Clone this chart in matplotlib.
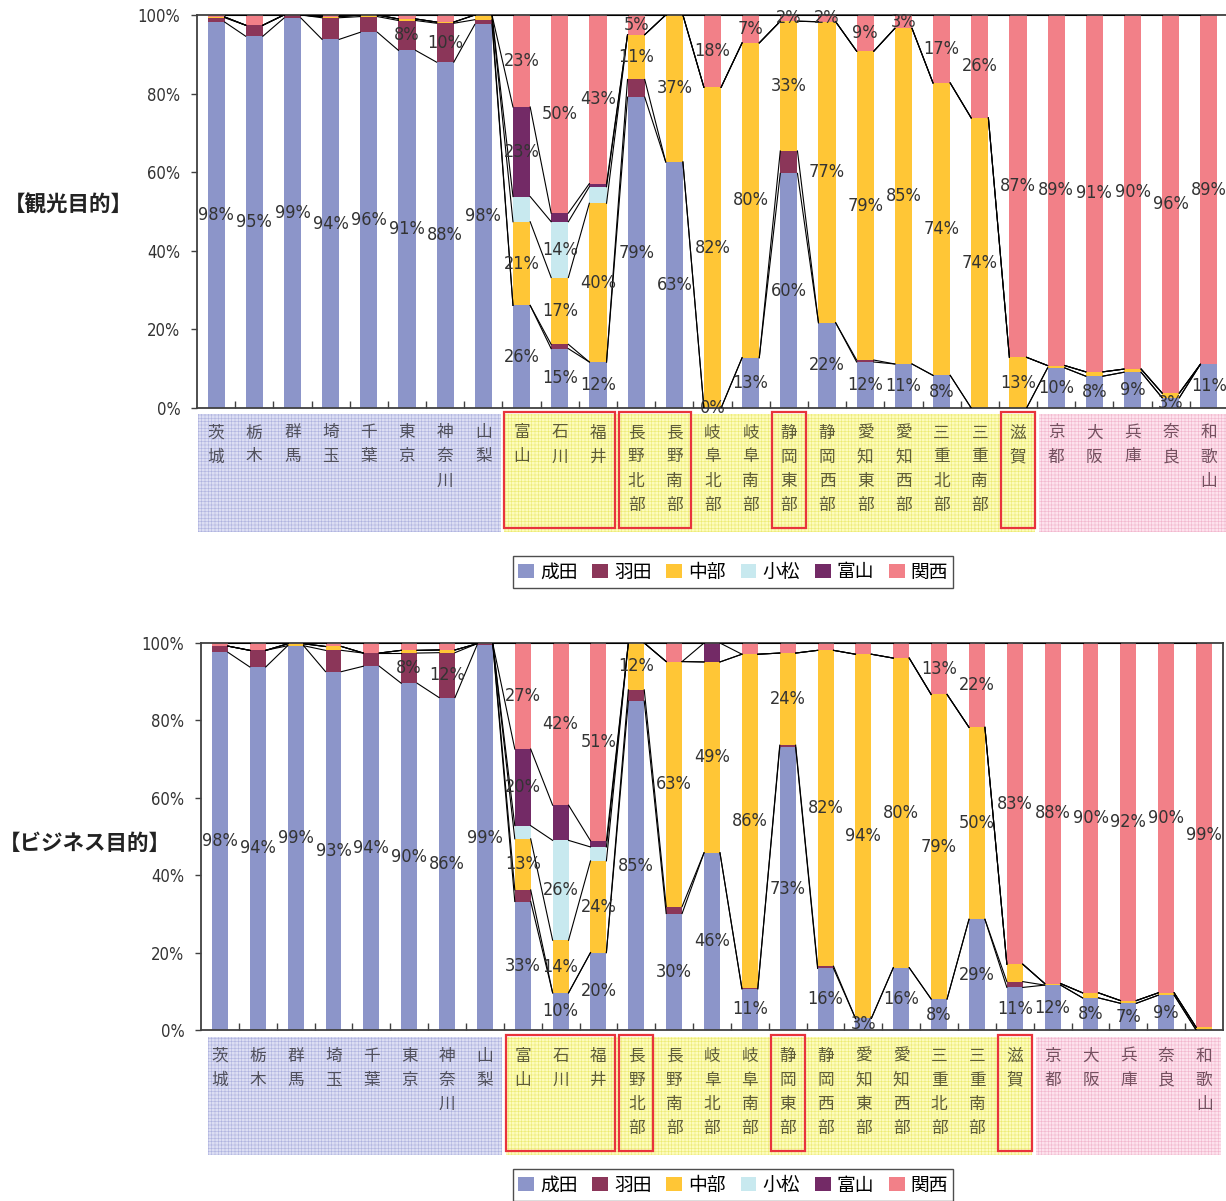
import numpy as np
import matplotlib
matplotlib.use('Agg')
import matplotlib.pyplot as plt
from matplotlib.patches import Rectangle, Patch
from matplotlib import transforms, font_manager

plt.rcParams['font.family'] = ['Noto Sans CJK JP', 'DejaVu Sans']
plt.rcParams['hatch.linewidth'] = 0.4

# 数字用の細身フォント（なければ Liberation Sans）
num_font = {'family': 'Liberation Sans', 'stretch': 'normal'}
for fam in ['Liberation Sans Narrow', 'DejaVu Sans', 'Noto Sans', 'Open Sans', 'Roboto']:
    hit = [f for f in font_manager.fontManager.ttflist
           if f.name == fam and f.style == 'normal'
           and (fam.endswith('Narrow') or f.stretch in ('condensed', 'semi-condensed'))]
    if hit:
        num_font = {'family': fam, 'stretch': hit[0].stretch}
        break

# 地域（都府県・地区）
pref = ['茨城', '栃木', '群馬', '埼玉', '千葉', '東京', '神奈川', '山梨',
        '富山', '石川', '福井', '長野北部', '長野南部', '岐阜北部', '岐阜南部',
        '静岡東部', '静岡西部', '愛知東部', '愛知西部', '三重北部', '三重南部', '滋賀',
        '京都', '大阪', '兵庫', '奈良', '和歌山']
airports = ['成田', '羽田', '中部', '小松', '富山', '関西']
colors = ['#8c95c9', '#8b3659', '#ffc636', '#c8e9ef', '#732a66', '#f28088']

# 観光目的 利用空港シェア(%)
kanko_narita = [98.2, 94.6, 99.2, 93.8, 95.6, 91.0, 88.0, 97.6, 26.1, 15.1, 11.7, 79.1, 62.6, 0.0,
                12.8, 59.7, 21.7, 11.7, 11.2, 8.3, 0.0, 0.0, 10.2, 8.1, 9.1, 2.6, 11.1]
kanko_haneda = [1.1, 2.8, 0.8, 5.5, 4.0, 7.6, 9.9, 1.2, 0.0, 1.1, 0.0, 4.5, 0.0, 0.0,
                0.0, 5.7, 0.0, 0.5, 0.0, 0.0, 0.0, 0.0, 0.0, 0.0, 0.0, 0.0, 0.0]
kanko_chubu = [0.2, 0.0, 0.0, 0.3, 0.4, 0.4, 0.3, 1.2, 21.3, 17.0, 40.4, 11.4, 37.4, 81.6,
               80.1, 33.0, 76.6, 78.6, 85.4, 74.4, 73.8, 12.9, 0.6, 1.1, 0.8, 1.2, 0.0]
kanko_komatsu = [0, 0, 0, 0, 0, 0, 0, 0, 6.4, 14.2, 4.2, 0, 0, 0,
                 0, 0, 0, 0, 0, 0, 0, 0, 0, 0, 0, 0, 0]
kanko_toyama = [0, 0, 0, 0, 0, 0, 0, 0, 22.8, 2.2, 0.8, 0, 0, 0,
                0, 0, 0, 0, 0, 0, 0, 0, 0, 0, 0, 0, 0]
kanko_kansai = [0.5, 2.6, 0.0, 0.4, 0.0, 1.0, 1.8, 0.0, 23.4, 50.4, 42.9, 5.0, 0.0, 18.4,
                7.1, 1.6, 1.7, 9.2, 3.4, 17.3, 26.2, 87.1, 89.2, 90.8, 90.1, 96.2, 88.9]

# ビジネス目的 利用空港シェア(%)
biz_narita = [97.6, 93.8, 99.3, 92.6, 94.0, 89.6, 85.9, 99.4, 33.2, 9.6, 20.0, 85.0, 30.1, 45.8,
              10.6, 73.0, 15.9, 3.0, 16.1, 8.0, 28.6, 11.0, 11.6, 8.3, 6.9, 9.0, 0.0]
biz_haneda = [1.6, 4.3, 0.0, 5.5, 3.4, 7.8, 11.6, 0.4, 3.0, 0.0, 0.0, 2.9, 1.8, 0.0,
              0.2, 0.6, 0.6, 0.0, 0.0, 0.0, 0.0, 1.5, 0.0, 0.0, 0.0, 0.0, 0.0]
biz_chubu = [0.0, 0.0, 0.5, 1.0, 0.0, 0.7, 0.7, 0.0, 13.2, 13.6, 23.7, 12.1, 63.3, 49.3,
             86.3, 23.8, 81.6, 94.1, 80.0, 78.7, 49.6, 4.5, 0.4, 1.3, 0.7, 0.6, 0.7]
biz_komatsu = [0, 0, 0, 0, 0, 0, 0, 0, 3.4, 25.8, 3.6, 0, 0, 0,
               0, 0, 0, 0, 0, 0, 0, 0, 0, 0, 0, 0, 0]
biz_toyama = [0, 0, 0, 0, 0, 0, 0, 0, 19.8, 9.1, 1.6, 0, 0, 4.9,
              0, 0, 0, 0, 0, 0, 0, 0, 0, 0, 0, 0, 0]
biz_kansai = [0.8, 1.9, 0.2, 0.9, 2.6, 1.9, 1.8, 0.2, 27.4, 41.9, 51.1, 0.0, 4.8, 0.0,
              2.9, 2.6, 1.9, 2.9, 3.9, 13.3, 21.8, 83.0, 88.0, 90.4, 92.4, 90.4, 99.3]

# ラベルを表示する地域（インデックス）
kanko_lab = {'成田': [i for i in range(27) if i not in (20, 21)],
             '羽田': [5, 6],
             '中部': list(range(8, 22)),
             '小松': [9],
             '富山': [8],
             '関西': [8, 9, 10, 11] + list(range(13, 27))}
biz_lab = {'成田': list(range(26)),
           '羽田': [5, 6],
           '中部': list(range(8, 21)),
           '小松': [9],
           '富山': [8],
           '関西': [8, 9, 10] + list(range(19, 27))}

W, H = 1226, 1201
fig = plt.figure(figsize=(W / 100, H / 100), dpi=100)
num_size = 13 if num_font['stretch'] != 'normal' else 11.5


def fy(py):
    return 1 - py / H


def panel(rect, data, labs, bw, lab_top, reg_left, boxes, title, title_xy):
    l, t, r, b = rect
    ax = fig.add_axes([l / W, fy(b), (r - l) / W, (b - t) / H])
    x = np.arange(len(pref))
    vals = np.array(data, dtype=float)
    share = vals / vals.sum(axis=0) * 100
    bottom = np.zeros(len(pref))
    tops = []
    for k, name in enumerate(airports):
        ax.bar(x, share[k], bw, bottom=bottom, color=colors[k], lw=0, zorder=2)
        for i in labs[name]:
            ax.text(x[i], bottom[i] + share[k][i] / 2, f'{vals[k][i]:.0f}%',
                    ha='center', va='center', fontsize=num_size, color='#333333',
                    zorder=5, **num_font)
        bottom = bottom + share[k]
        tops.append(bottom.copy())
    # 系列線
    for top in tops:
        for i in range(len(x) - 1):
            ax.plot([x[i] + bw / 2, x[i + 1] - bw / 2], [top[i], top[i + 1]],
                    color='black', lw=0.8, zorder=3)

    ax.set_xlim(-0.5, len(pref) - 0.5)
    ax.set_ylim(0, 100)
    ax.set_yticks(np.arange(0, 101, 20))
    ax.set_yticklabels([f'{v}%' for v in range(0, 101, 20)], fontsize=12,
                       color='#333333', **num_font)
    ax.tick_params(axis='y', direction='out', length=4, width=1, pad=8, color='#404040')
    ax.set_xticks([])
    ax.set_xticks(x[:-1] + 0.5, minor=True)
    ax.tick_params(axis='x', which='minor', direction='in', length=5, width=1, color='#404040')
    for s in ax.spines.values():
        s.set_color('#404040')
        s.set_linewidth(1.3)

    # 地域区分の背景と地名
    tr = transforms.blended_transform_factory(ax.transData, fig.transFigure)
    regions = [(0, 7, '#dcdef3', '#aeb2df', '#50505c'),
               (8, 21, '#fdfcbc', '#ecea72', '#5f5d38'),
               (22, 26, '#fde2ed', '#f2b5cc', '#74505f')]
    y0, y1 = lab_top - 19, lab_top + 99
    for a, z, fc, hc, tc in regions:
        x0 = reg_left if a == 0 else a - 0.45
        x1 = z + 0.45
        ax.add_patch(Rectangle((x0, fy(y1)), x1 - x0, (y1 - y0) / H, transform=tr,
                               facecolor=fc, edgecolor=hc, hatch='+++++', lw=0,
                               clip_on=False, zorder=0))
        for i in range(a, z + 1):
            for j, ch in enumerate(pref[i]):
                ax.text(i, fy(lab_top + 24 * j), ch, transform=tr, ha='center', va='center',
                        fontsize=12, color=tc, clip_on=False)
    for a, z in boxes:
        ax.add_patch(Rectangle((a - 0.45, fy(y1 - 4)), z - a + 0.9, (y1 - y0 - 2) / H,
                               transform=tr, facecolor='none', edgecolor='#e8333c', lw=1.6,
                               clip_on=False, zorder=6))

    fig.text(title_xy[0] / W, fy(title_xy[1]), title, ha='center', va='center',
             fontsize=15.5, fontweight='bold', color='#222222')
    return ax


def legend_at(cy):
    handles = [Patch(facecolor=c, edgecolor='none', label=n) for n, c in zip(airports, colors)]
    leg = fig.legend(handles=handles, loc='center', bbox_to_anchor=(733 / W, fy(cy)), ncol=6,
                     fontsize=13.5, frameon=True, fancybox=False, edgecolor='#222222',
                     handlelength=0.85, handleheight=0.85, handletextpad=0.3,
                     columnspacing=0.8, borderpad=0.3, borderaxespad=0)
    leg.get_frame().set_linewidth(1.0)


kanko = [kanko_narita, kanko_haneda, kanko_chubu, kanko_komatsu, kanko_toyama, kanko_kansai]
biz = [biz_narita, biz_haneda, biz_chubu, biz_komatsu, biz_toyama, biz_kansai]

panel((197, 15, 1228, 408), kanko, kanko_lab, 0.45, 433, -0.48,
      [(8, 10), (11, 12), (15, 15), (21, 21)], '【観光目的】', (68, 205))
legend_at(572)
panel((201, 643, 1223, 1030), biz, biz_lab, 0.42, 1056, -0.32,
      [(8, 10), (11, 11), (15, 15), (21, 21)], '【ビジネス目的】', (85, 843))
legend_at(1185)

fig.savefig('out.png', dpi=100, facecolor='white')
